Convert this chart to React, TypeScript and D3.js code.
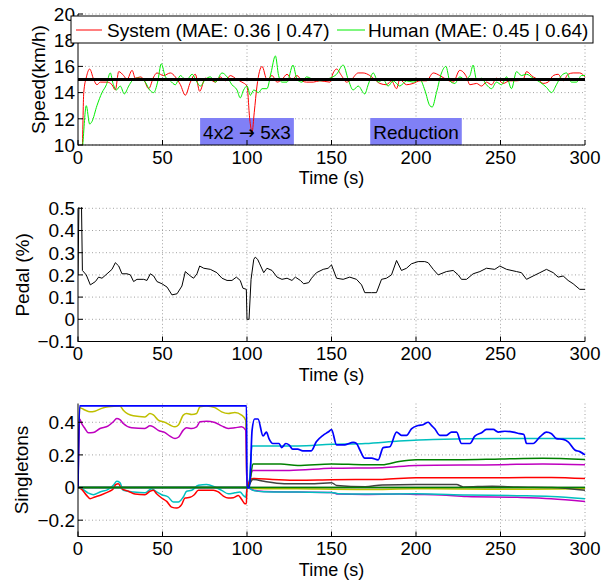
import React, { useLayoutEffect, useRef, useState } from 'react';
import * as d3 from 'd3';

type P = [number, number];

// ---------- DATA ----------
const timeTicks = [0, 50, 100, 150, 200, 250, 300];
const speedTicks = [10, 12, 14, 16, 18, 20];
const pedalTicks = [-0.1, 0, 0.1, 0.2, 0.3, 0.4, 0.5];
const singletonTicks = [-0.2, 0, 0.2, 0.4];
const legendLabels = ['System (MAE: 0.36 | 0.47)', 'Human (MAE: 0.45 | 0.64)'];
const annotationTexts = ['4x2 \u2192 5x3', 'Reduction'];
const annotationTimes = [100, 200];
const annotationSpeed = 11.03;
const targetSpeed: P[] = [[0, 15], [300, 15]];

const systemSpeed: P[] = [
  [0, 6], [2.5, 9.5], [3.4, 14], [5, 15.2], [6.9, 15.8], [9.3, 15.0], [11.2, 14.6], [13.2, 14.8], [17.2, 14.8],
  [20.1, 14.6], [22.1, 14.2], [24.1, 15.6], [27, 15.3], [29, 15.0], [32, 15.7], [33.9, 15.1], [36.9, 15.2],
  [38.9, 15.0], [41.8, 14.3], [44.8, 15.2], [46.7, 15.5], [50.7, 15.3], [54.6, 15.5], [57.6, 15.2], [60.6, 14.6],
  [63.5, 13.8], [66.5, 14.8], [69.4, 15.4], [72, 14.1], [75.3, 15.1], [78.3, 15.0], [81.3, 14.8], [84.2, 15.2],
  [87.2, 14.9], [90.1, 15.3], [94.1, 15.0], [97, 14.8], [100, 14.5], [101.6, 12], [103, 11], [104.3, 12.5],
  [105.9, 14.5], [108.9, 16.0], [111.8, 15.0], [114.8, 15.3], [117.8, 14.8], [120.7, 15.0], [123.7, 15.4],
  [126.6, 15.0], [129.6, 15.3], [132.5, 14.9], [135.2, 14.8], [139.2, 14.8], [143.1, 14.9], [149, 14.8],
  [151, 15.5], [153, 15.8], [155.9, 15.3], [158.9, 14.8], [161.8, 15.0], [165.8, 15.5], [168.7, 15.5],
  [172.7, 15.3], [175.6, 15.0], [178.6, 14.7], [182.5, 14.6], [185.5, 14.9], [188.5, 14.3], [190.4, 15.0],
  [194.4, 14.6], [198.3, 14.7], [202.3, 14.9], [206.2, 14.9], [210.2, 15.5], [214.1, 15.3], [218, 15.0],
  [222, 14.8], [225.9, 15.7], [229.9, 15.2], [231.9, 14.6], [235.8, 14.7], [238.8, 14.5], [241.7, 14.8],
  [244.7, 14.6], [247.6, 15.1], [251.6, 14.7], [255.5, 14.9], [259.5, 14.9], [263.4, 15.0], [265.4, 15.6],
  [269.3, 15.2], [272.3, 15.0], [275.2, 14.7], [278.2, 14.8], [281.2, 15.3], [284.1, 15.4], [287.1, 14.9],
  [290, 15.4], [293, 15.5], [296.9, 15.5], [300, 15.2],
];

const humanSpeed: P[] = [
  [0, 6], [2.8, 10], [4.9, 13.0], [6.9, 11.6], [8.3, 11.8], [11.2, 13.0], [14.2, 14.0], [16.8, 14.6], [19.1, 15.5],
  [20.7, 14.7], [22.7, 14.2], [25, 14.5], [27.4, 13.9], [30, 14.5], [32, 14.9], [34.9, 15.1], [36.9, 15.1],
  [39.8, 14.8], [42.4, 14.2], [44.8, 14.0], [47.1, 14.8], [49.3, 16.2], [51.7, 15.2], [54.6, 14.9], [57.6, 14.6],
  [60.6, 15.3], [62.5, 15.1], [64.5, 15.0], [67.5, 15.4], [70.4, 14.8], [72.4, 14.5], [75.3, 15.0], [78.3, 15.2],
  [81.3, 14.8], [85.2, 15.5], [88.2, 15.2], [91.1, 14.6], [94.1, 14.2], [96, 13.6], [98, 14.2], [100, 14.5],
  [102, 13.8], [104, 14.2], [106.9, 14.0], [108.9, 14.3], [111.8, 14.3], [114.2, 15.5], [116.8, 16.8],
  [118.7, 15.3], [120.7, 14.8], [123.7, 14.8], [127.2, 16.1], [129.6, 15.0], [132.5, 14.8], [135.2, 15.2],
  [139.2, 15.0], [143.1, 14.9], [149, 15.1], [153, 15.4], [156.9, 16.1], [159.9, 15.0], [162.8, 14.2],
  [165.8, 14.5], [169.7, 13.9], [171.7, 14.6], [174.7, 15.5], [177.6, 14.8], [180.6, 15.0], [183.5, 14.5],
  [186.5, 14.9], [190.4, 14.5], [194.4, 14.9], [198.3, 14.8], [202.3, 15.0], [205.2, 14.2], [208.2, 13.0],
  [209.6, 12.9], [212.1, 14.0], [215.1, 15.5], [217.7, 16.0], [220, 14.9], [223, 14.7], [225.9, 15.2],
  [228.9, 15.0], [231.9, 15.3], [233.8, 16.1], [235.8, 15.0], [238.8, 15.1], [241.7, 14.6], [244.7, 14.3],
  [247.6, 14.8], [250.6, 14.6], [253.6, 15.2], [256.5, 14.3], [259.5, 15.6], [262.4, 15.3], [265.4, 15.4],
  [269.3, 15.1], [273.3, 14.8], [277.2, 14.4], [280.2, 14.0], [283.1, 14.6], [286.1, 15.3], [289.1, 15.5],
  [292, 14.8], [295, 14.8], [297.9, 15.3], [300, 15.3],
];

const pedal: P[] = [
  [0, 0.2], [0.6, 0.55], [2, 0.55], [2.6, 0.22], [4.9, 0.2], [7.3, 0.155], [10.3, 0.17], [12.2, 0.19],
  [14.2, 0.185], [17.2, 0.205], [20.1, 0.225], [22.1, 0.255], [24.1, 0.24], [26, 0.205], [29, 0.205], [31, 0.2],
  [32.9, 0.17], [34.9, 0.18], [38.9, 0.18], [40.8, 0.175], [42.8, 0.205], [44.8, 0.195], [46.7, 0.17],
  [49.7, 0.16], [52.7, 0.145], [55.6, 0.11], [58.6, 0.115], [61.5, 0.15], [63.5, 0.215], [66.5, 0.195],
  [68.4, 0.185], [70.4, 0.205], [72, 0.24], [74.4, 0.23], [78.3, 0.225], [82.2, 0.21], [85.2, 0.185],
  [88.2, 0.175], [91.1, 0.175], [93.7, 0.19], [96, 0.175], [97.6, 0.14], [99.6, 0.135], [100, 0], [101.2, 0],
  [102.4, 0.18], [104, 0.27], [104.9, 0.28], [106.3, 0.27], [107.5, 0.25], [109.9, 0.21], [111.8, 0.23],
  [114.8, 0.22], [117.8, 0.19], [120.7, 0.18], [123.7, 0.185], [126.6, 0.175], [128.6, 0.19], [131.6, 0.175],
  [133.5, 0.16], [136.5, 0.165], [138.2, 0.185], [141.1, 0.21], [145.1, 0.225], [148, 0.23], [150, 0.245],
  [153, 0.185], [156.9, 0.18], [160.8, 0.19], [164.8, 0.18], [167.8, 0.155], [169.7, 0.12], [173.7, 0.12],
  [176.6, 0.12], [179.6, 0.18], [182.5, 0.185], [185.5, 0.2], [188.5, 0.265], [191.4, 0.22], [194.4, 0.23],
  [197.3, 0.25], [201.3, 0.26], [205.2, 0.26], [207.2, 0.255], [210.2, 0.225], [213.1, 0.2], [218, 0.215],
  [222, 0.22], [225, 0.2], [226.9, 0.18], [229.9, 0.18], [233.8, 0.205], [237.8, 0.215], [241.7, 0.23],
  [246.6, 0.225], [249.6, 0.24], [253.6, 0.225], [259.5, 0.215], [262.4, 0.21], [265.4, 0.18], [269.3, 0.195],
  [273.3, 0.21], [277.2, 0.225], [281.2, 0.21], [284.1, 0.19], [287.1, 0.195], [290, 0.175], [293, 0.16],
  [296.9, 0.135], [300, 0.135],
];

const singletonBlue: P[] = [
  [0, 0], [1, 0.5], [99.7, 0.5], [100, 0], [101.5, 0], [103, 0.35], [104.5, 0.42], [106.5, 0.42], [109.5, 0.316],
  [111.5, 0.34], [113, 0.3], [115.3, 0.27], [119, 0.27], [120.5, 0.245], [123, 0.27], [125, 0.26], [127, 0.235],
  [130, 0.235], [133, 0.225], [138, 0.225], [141, 0.28], [145, 0.32], [148, 0.34], [150, 0.355], [153, 0.262],
  [158, 0.262], [162.8, 0.277], [164.8, 0.27], [166.8, 0.23], [169.7, 0.18], [173.7, 0.18], [177.6, 0.17],
  [180.6, 0.245], [184.5, 0.25], [188.5, 0.34], [191.4, 0.32], [194.4, 0.32], [197.3, 0.36], [201.3, 0.38],
  [204.2, 0.385], [207.2, 0.4], [209.2, 0.38], [211.1, 0.36], [214.1, 0.32], [218, 0.32], [221, 0.34],
  [224, 0.34], [226.9, 0.27], [231.9, 0.27], [234.8, 0.315], [238.8, 0.336], [241.7, 0.356], [245.7, 0.356],
  [248.6, 0.34], [252.6, 0.345], [257.5, 0.34], [261.4, 0.33], [263.8, 0.325], [265.4, 0.27], [269.3, 0.27],
  [273.3, 0.31], [277.2, 0.34], [280.2, 0.33], [283.1, 0.3], [287.1, 0.295], [290, 0.28], [294, 0.23],
  [296.9, 0.22], [300, 0.2],
];
const singletonGreen: P[] = [
  [0, 0], [100, 0], [101.5, 0.02], [103.5, 0.145], [120, 0.145], [130, 0.135], [150, 0.145], [170, 0.14],
  [180, 0.14], [190, 0.16], [200, 0.17], [225, 0.17], [250, 0.175], [275, 0.18], [300, 0.172],
];
const singletonRed: P[] = [
  [0, 0], [2.2, -0.011], [5.1, -0.048], [7.1, -0.068], [10, -0.058], [14, -0.044], [17.9, -0.027], [20.9, -0.007],
  [22.3, 0.018], [23.9, 0.024], [25.8, -0.007], [29.8, -0.023], [33.7, -0.04], [39.6, -0.044], [42.6, -0.023],
  [44.6, -0.017], [46.5, -0.038], [49.5, -0.064], [52.5, -0.085], [55.4, -0.12], [58.4, -0.126], [61.3, -0.105],
  [63.3, -0.064], [66.3, -0.06], [68.8, -0.044], [71.2, -0.017], [75.1, -0.017], [80.1, -0.017], [83, -0.027],
  [86, -0.052], [88.9, -0.064], [91.9, -0.062], [94.9, -0.048], [96.8, -0.072], [98.8, -0.099], [99.6, -0.1],
  [100, 0], [103.5, 0.055], [115, 0.05], [130, 0.045], [150, 0.048], [180, 0.05], [200, 0.06], [250, 0.06],
  [280, 0.062], [300, 0.055],
];
const singletonCyan: P[] = [
  [0, 0], [2.2, -0.007], [6.1, -0.034], [9.1, -0.044], [13, -0.027], [17.9, -0.011], [20.9, 0.014], [22.9, 0.038],
  [24.8, 0.03], [26.8, -0.017], [32.7, -0.027], [39.6, -0.032], [43.6, -0.007], [46.5, -0.027], [49.5, -0.044],
  [53.4, -0.058], [56.4, -0.089], [59.4, -0.089], [62.3, -0.058], [64.3, -0.023], [67.3, -0.017], [71.2, 0.014],
  [76.1, 0.018], [81, 0.003], [85, -0.017], [88.9, -0.038], [92.9, -0.032], [95.9, -0.027], [97.8, -0.048],
  [99.2, -0.06], [100, 0], [101.5, 0.05], [103, 0.255], [130, 0.255], [150, 0.265], [170, 0.27], [190, 0.285],
  [210, 0.295], [250, 0.3], [280, 0.3], [300, 0.3],
];
const singletonMagenta: P[] = [
  [0, 0], [1, 0.42], [2.2, 0.392], [4.1, 0.362], [6.1, 0.335], [9, 0.337], [13, 0.362], [17.9, 0.378],
  [20.9, 0.403], [22.9, 0.423], [24.8, 0.416], [26.8, 0.392], [31.7, 0.366], [39.6, 0.362], [42.6, 0.378],
  [44.6, 0.372], [47.5, 0.35], [51.5, 0.336], [54.4, 0.315], [57.4, 0.3], [59.4, 0.308], [62.3, 0.352],
  [64.3, 0.366], [67.3, 0.362], [70.2, 0.372], [72.2, 0.403], [76.1, 0.407], [81, 0.399], [85, 0.378],
  [88.9, 0.362], [92.8, 0.366], [96.8, 0.372], [99.2, 0.352], [100, 0], [103.5, 0.105], [125, 0.105],
  [150, 0.118], [180, 0.122], [200, 0.135], [250, 0.14], [275, 0.145], [300, 0.14],
];
const singletonOlive: P[] = [
  [0, 0], [1, 0.49], [2.2, 0.485], [4.1, 0.475], [7.1, 0.464], [10, 0.468], [14, 0.485], [17.9, 0.495],
  [24.8, 0.5], [26.8, 0.474], [32.7, 0.44], [39.6, 0.433], [42.6, 0.454], [44.6, 0.445], [47.5, 0.413],
  [51.5, 0.399], [54.4, 0.383], [57.4, 0.372], [59.4, 0.383], [62.3, 0.444], [64.3, 0.454], [67.3, 0.448],
  [70.2, 0.454], [72.2, 0.495], [76.1, 0.5], [81, 0.49], [85, 0.464], [88.9, 0.454], [92.8, 0.46],
  [96.8, 0.444], [99.2, 0.413], [100, 0], [103, -0.005], [130, -0.008], [170, -0.012], [200, -0.008],
  [250, -0.01], [300, -0.008],
];
const singletonGray: P[] = [
  [0, 0], [100, 0], [103.5, 0.05], [110, 0.038], [122, 0.024], [140, 0.024], [150, 0.03], [153, 0.013],
  [170, 0.005], [180, 0.016], [200, 0.018], [224, 0.018], [228, 0.004], [245, 0.008], [260, 0.003], [280, 0],
  [300, -0.017],
];
const singletonGray2: P[] = [[0, 0], [300, 0]];
const singletonMagenta2: P[] = [
  [0, 0], [100, 0], [104, -0.017], [110, -0.025], [130, -0.028], [150, -0.03], [154, -0.04], [170, -0.042],
  [190, -0.04], [200, -0.042], [215, -0.045], [230, -0.055], [260, -0.06], [280, -0.068], [300, -0.085],
];
const singletonCyan2: P[] = [
  [0, 0], [100, 0], [104, -0.018], [110, -0.026], [130, -0.028], [150, -0.03], [154, -0.038], [170, -0.04],
  [200, -0.038], [230, -0.045], [260, -0.05], [280, -0.055], [300, -0.068],
];
const singletonGreen2: P[] = [[0, 0], [300, 0]];

// ---------- STYLE / LAYOUT ----------
const FONT = '"Liberation Sans", Arial, Helvetica, sans-serif';
const X0 = 78;
const X1 = 585;
const C = {
  b: '#0000ff', g: '#008000', r: '#ff0000', c: '#00bfbf', m: '#bf00bf', y: '#bfbf00', k: '#404040',
};
const singletonSeries: { data: P[]; color: string; w: number }[] = [
  { data: singletonGray2, color: C.k, w: 1.5 },
  { data: singletonOlive, color: C.y, w: 1.5 },
  { data: singletonMagenta, color: C.m, w: 1.5 },
  { data: singletonCyan, color: C.c, w: 1.5 },
  { data: singletonRed, color: C.r, w: 1.5 },
  { data: singletonGray, color: C.k, w: 1.5 },
  { data: singletonMagenta2, color: C.m, w: 1.5 },
  { data: singletonCyan2, color: C.c, w: 1.5 },
  { data: singletonGreen, color: C.g, w: 1.5 },
  { data: singletonGreen2, color: C.g, w: 1.5 },
  { data: singletonBlue, color: C.b, w: 1.7 },
];

const x = d3.scaleLinear().domain([0, 300]).range([X0, X1]);

function fmt(v: number) {
  const s = String(+v.toFixed(2));
  return v < 0 ? '\u2212' + s.slice(1) : s;
}

function Panel(props: {
  id: string; top: number; bottom: number; domain: [number, number]; ticks: number[];
  ylabel: string; ylabelX: number; children: (y: d3.ScaleLinear<number, number>) => React.ReactNode;
}) {
  const { id, top, bottom, domain, ticks, ylabel, ylabelX, children } = props;
  const y = d3.scaleLinear().domain(domain).range([bottom, top]);
  const midY = (top + bottom) / 2;
  return (
    <g>
      <defs>
        <clipPath id={id}>
          <rect x={X0} y={top - 1} width={X1 - X0 + 1} height={bottom - top + 1} />
        </clipPath>
      </defs>
      {ticks.map((t) => (
        <line key={'gy' + t} x1={X0} x2={X1} y1={y(t)} y2={y(t)} stroke="#8a8a8a" strokeWidth={0.8} strokeDasharray="1,2.5" />
      ))}
      {timeTicks.slice(1).map((t) => (
        <line key={'gx' + t} x1={x(t)} x2={x(t)} y1={top} y2={bottom} stroke="#8a8a8a" strokeWidth={0.8} strokeDasharray="1,2.5" />
      ))}
      <g clipPath={`url(#${id})`}>{children(y)}</g>
      <line x1={X0} x2={X0} y1={top} y2={bottom + 0.5} stroke="#000" strokeWidth={1} />
      <line x1={X0} x2={X1} y1={bottom} y2={bottom} stroke="#000" strokeWidth={1} />
      {ticks.map((t) => (
        <g key={'ty' + t}>
          <line x1={X0} x2={X0 + 5} y1={y(t)} y2={y(t)} stroke="#000" strokeWidth={1} />
          <text x={75} y={y(t)} dy="0.36em" textAnchor="end" fontSize={19} fontFamily={FONT}>{fmt(t)}</text>
        </g>
      ))}
      {timeTicks.map((t) => (
        <g key={'tx' + t}>
          <line x1={x(t)} x2={x(t)} y1={bottom} y2={bottom - 5} stroke="#000" strokeWidth={1} />
          <text x={x(t)} y={bottom + 18.8} textAnchor="middle" fontSize={18.5} fontFamily={FONT}>{t}</text>
        </g>
      ))}
      <text x={(X0 + X1) / 2} y={bottom + 39} textAnchor="middle" fontSize={18} fontFamily={FONT}>Time (s)</text>
      <text transform={`translate(${ylabelX},${midY}) rotate(-90)`} textAnchor="middle" fontSize={19} fontFamily={FONT}>{ylabel}</text>
    </g>
  );
}

function AnnotationText({ cx, cy, text, textRef }: { cx: number; cy: number; text: string; textRef?: React.Ref<SVGTextElement> }) {
  const parts = text.split('\u2192');
  return (
    <text ref={textRef} x={cx} y={cy + 7} textAnchor="middle" fontSize={19} fontFamily={FONT} fill="#000">
      {parts.length === 2 ? (
        <>
          {parts[0]}
          <tspan fontFamily='"DejaVu Sans"' fontSize={19}>{'\u2192'}</tspan>
          {parts[1]}
        </>
      ) : text}
    </text>
  );
}

function AnnotationBox({ cx, cy, text }: { cx: number; cy: number; text: string }) {
  const ref = useRef<SVGTextElement>(null);
  const [w, setW] = useState(90);
  useLayoutEffect(() => {
    if (ref.current) setW(ref.current.getComputedTextLength());
  }, [text]);
  return (
    <g>
      <rect x={cx - w / 2 - 3} y={cy - 13.5} width={w + 6} height={27} fill="#8080f6" />
      <g opacity={0}>
        <AnnotationText cx={cx} cy={cy} text={text} textRef={ref} />
      </g>
    </g>
  );
}

export default function App() {
  const lineLin = (y: d3.ScaleLinear<number, number>) =>
    d3.line<P>().x((d) => x(d[0])).y((d) => y(d[1]));
  const lineSmooth = (y: d3.ScaleLinear<number, number>) =>
    d3.line<P>().x((d) => x(d[0])).y((d) => y(d[1])).curve(d3.curveMonotoneX);

  const speedY = d3.scaleLinear().domain([10, 20]).range([145, 14]);
  const annCy = speedY(annotationSpeed);

  return (
    <svg width={616} height={582} style={{ position: 'absolute', left: 0, top: 0, background: '#fff' }}>
      <rect x={0} y={0} width={616} height={582} fill="#fff" />
      <Panel id="c1" top={14} bottom={145} domain={[10, 20]} ticks={speedTicks} ylabel="Speed(km/h)" ylabelX={44.5}>
        {(y) => (
          <g>
            {annotationTimes.map((t, i) => (
              <AnnotationBox key={i} cx={x(t)} cy={annCy} text={annotationTexts[i]} />
            ))}
            <path d={lineSmooth(y)(systemSpeed) || ''} fill="none" stroke="#ff0000" strokeWidth={1} />
            <path d={lineSmooth(y)(humanSpeed) || ''} fill="none" stroke="#00ee00" strokeWidth={1} />
            <path d={lineLin(y)(targetSpeed) || ''} fill="none" stroke="#000" strokeWidth={3} />
          </g>
        )}
      </Panel>
      {annotationTimes.map((t, i) => (
        <AnnotationText key={'at' + i} cx={x(t)} cy={annCy} text={annotationTexts[i]} />
      ))}
      <g>
        <rect x={71} y={16} width={522} height={27} fill="#fff" stroke="#000" strokeWidth={1} />
        <line x1={76} x2={102} y1={30} y2={30} stroke="#ff0000" strokeWidth={1} />
        <text x={107} y={37} fontSize={19} fontFamily={FONT}>{legendLabels[0]}</text>
        <line x1={337} x2={365} y1={30} y2={30} stroke="#00ee00" strokeWidth={1} />
        <text x={368} y={37} fontSize={19} fontFamily={FONT}>{legendLabels[1]}</text>
      </g>
      <Panel id="c2" top={208.3} bottom={341.5} domain={[-0.1, 0.5]} ticks={pedalTicks} ylabel="Pedal (%)" ylabelX={29}>
        {(y) => <path d={lineLin(y)(pedal) || ''} fill="none" stroke="#000" strokeWidth={1} />}
      </Panel>
      <Panel id="c3" top={403.5} bottom={536.5} domain={[-0.3, 0.515]} ticks={singletonTicks} ylabel="Singletons" ylabelX={27.5}>
        {(y) => (
          <g>
            {singletonSeries.map((s, i) => (
              <path key={i} d={lineSmooth(y)(s.data) || ''} fill="none" stroke={s.color} strokeWidth={s.w} strokeLinejoin="round" />
            ))}
          </g>
        )}
      </Panel>
    </svg>
  );
}
